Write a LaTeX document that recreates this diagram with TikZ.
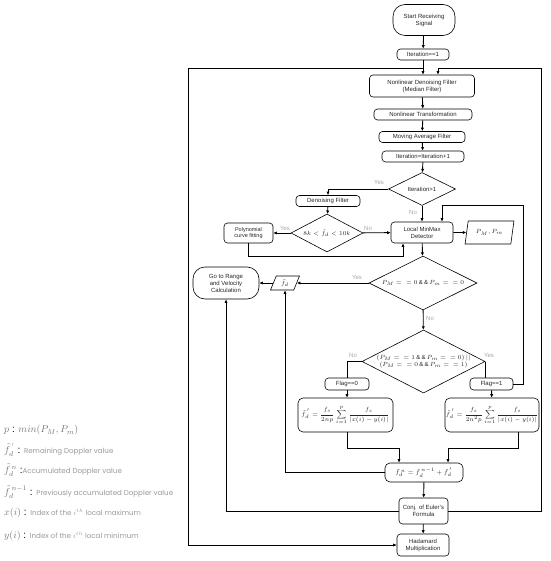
\documentclass[tikz,border=0pt]{standalone}
\usepackage{amsmath}
\usepackage{fontspec}
\setmainfont{Liberation Sans}
\newfontfamily\legendfont{Poppins}
\usetikzlibrary{shapes.geometric,arrows.meta}
\newcommand{\descr}[1]{{\fontsize{7.1}{8}\legendfont\color{black!40}#1}}

\begin{document}
\begin{tikzpicture}[x=1pt,y=-1pt,
  every node/.style={font=\fontsize{6}{7}\selectfont, align=center, inner sep=1pt, text=black!85},
  box/.style={draw, rounded corners=3.5pt, minimum height=11pt, line width=.6pt},
  term/.style={draw, rounded corners=12pt, line width=.6pt},
  dec/.style={draw, diamond, aspect=2, inner sep=0pt, line width=.6pt},
  io/.style={draw, trapezium, trapezium left angle=70, trapezium right angle=110, trapezium stretches=true, inner sep=0pt, line width=.6pt},
  lbl/.style={text=black!35},
  leg/.style={anchor=west, font=\fontsize{10}{11}\selectfont, text=black!55},
  wire/.style={line width=.9pt},
  arr/.style={wire, -{Latex[length=3.5pt,width=3.2pt]}}]
\useasboundingbox (0,0) rectangle (550,561);

% main column
\node[term, minimum width=62pt, minimum height=31pt] (start) at (424,20) {Start Receiving\\Signal};
\node[box, minimum width=52pt] (it1) at (423,54.5) {Iteration==1};
\node[box, minimum width=105pt, minimum height=22pt] (nld) at (422,86) {Nonlinear Denoising Filter\\(Median Filter)};
\node[box, minimum width=98pt] (nlt) at (423,114.5) {Nonlinear Transformation};
\node[box, minimum width=86pt] (maf) at (422,137) {Moving Average Filter};
\node[box, minimum width=82pt] (itinc) at (423,156.5) {Iteration=Iteration+1};
\node[dec, minimum width=67pt, minimum height=33pt] (itdec) at (422,189) {Iteration>1};
\node[box, minimum width=64pt] (dnf) at (328,201) {Denoising Filter};
\node[dec, minimum width=72pt, minimum height=38pt] (rng) at (327,233) {$8k<\hat{f}_d<10k$};
\node[box, minimum width=49pt, minimum height=20pt, font=\fontsize{5.5}{6.5}\selectfont] (poly) at (248.5,233) {Polynomial\\curve fitting};
\node[box, minimum width=62pt, minimum height=21pt] (lmm) at (422,232.5) {Local MinMax\\Detector};
\node[io, minimum width=49pt, minimum height=23pt] (pmm) at (489.5,232.5) {$P_M, P_m$};
\node[dec, minimum width=108pt, minimum height=54pt] (zdec) at (423,283) {$P_M ={}= 0\,\&\,\&\,P_m ={}= 0$};
\node[io, minimum width=29pt, minimum height=14pt] (fd) at (285,283) {$\tilde{f}_d$};
\node[term, minimum width=66pt, minimum height=32pt] (go) at (226,283) {Go to Range\\and Velocity\\Calculation};
\node[dec, minimum width=123pt, minimum height=63pt] (fdec) at (423.5,361.5) {$(P_M ={}= 1\,\&\,\&\,P_m ={}= 0)\,||$\\$(P_M ={}= 0\,\&\,\&\,P_m ={}= 1)$};
\node[box, minimum width=44pt, minimum height=12pt] (f0) at (347,384) {Flag==0};
\node[box, minimum width=43pt, minimum height=12pt] (f1) at (491.5,384) {Flag==1};
\node[box, rounded corners=5pt, minimum width=95pt, minimum height=34pt] (fl) at (345.5,415)
  {$\tilde{f}_d^{\,'}=\dfrac{f_s}{2np}\displaystyle\sum_{i=1}^{p}\dfrac{f_s}{|x(i)-y(i)|}$};
\node[box, rounded corners=5pt, minimum width=84pt, minimum height=34pt] (fr) at (492,415)
  {$\tilde{f}_d^{\,'}=\dfrac{f_s}{2n^2p}\displaystyle\sum_{i=1}^{p}\dfrac{f_s}{|x(i)-y(i)|}$};
\node[box, rounded corners=5pt, minimum width=78pt, minimum height=19pt] (acc) at (424,472.5) {$\tilde{f}_d^{\,n}=\tilde{f}_d^{\,n-1}+\tilde{f}_d^{\,'}$};
\node[box, minimum width=49pt, minimum height=26pt] (conj) at (423.5,511) {Conj. of Euler's\\Formula};
\node[box, minimum width=52pt, minimum height=22pt] (had) at (423,545) {Hadamard\\Multiplication};

\coordinate (split) at (423,68);
\coordinate (tl) at (188,68);
\coordinate (tr) at (541,68);
\coordinate (fb) at (523,205);

\draw[arr] (start) -- (it1);
\draw[arr] (it1.south) -- (it1.south |- nld.north);
\draw[arr] (split) -- (tl) |- (had);
\draw[arr] (conj) -| (tr) -| ([xshift=16pt]nld.north);
\draw[arr] (nld) -- (nlt);
\draw[arr] (nlt) -- (maf);
\draw[arr] (maf) -- (itinc);
\draw[arr] (itinc) -- (itdec);
\draw[arr] (itdec) -| (dnf);
\draw[arr] (itdec) -- (lmm);
\draw[arr] (dnf) -- (rng);
\draw[arr] (rng) -- (poly);
\draw[arr] (rng) -- (lmm);
\draw[arr] (poly.south) -- ++(0,13) -| ([xshift=-19pt]lmm.south);
\draw[arr] (lmm) -- (pmm);
\draw[arr] (lmm) -- (zdec);
\draw[arr] (zdec) -- (fd);
\draw[arr] (fd) -- (go);
\draw[arr] (zdec) -- (fdec);
\draw[wire] (fdec.west) -| (f0.north);
\draw[wire] (fdec.east) -- (fdec.east |- f1.north);
\draw[arr] (f0.south) -- (f0.south |- fl.north);
\draw[arr] (f1) -- (fr);
\draw[arr] (f1.east) -| (fb) -| ([xshift=20pt]lmm.north);
\draw[arr] ([xshift=2pt]fl.south) -- ++(0,16) -| ([xshift=-25pt]acc.north);
\draw[arr] ([xshift=26pt]fr.south) -- ++(0,16) -| ([xshift=24pt]acc.north);
\draw[arr] (acc.west) -| (fd.south);
\draw[arr] (acc) -- (conj);
\draw[arr] (conj.west) -| (go.south);
\draw[arr] (conj) -- (had);

% yes / no
\node[lbl] (y1) at (379,182) {Yes};
\node[lbl] (n1) at (413,212) {No};
\node[lbl] (y2) at (285,228) {Yes};
\node[lbl] (n2) at (368,228) {No};
\node[lbl] (y3) at (357,277) {Yes};
\node[lbl] (n3) at (430,318) {No};
\node[lbl] (n4) at (353,355) {No};
\node[lbl] (y4) at (489,355) {Yes};

% legend
\node[leg] (lg1) at (3,430) {$p$ \textcolor{black}{:} $min(P_M,P_m)$};
\node[leg] (lg2) at (3,450) {$\tilde{f}_d^{\,'}$ \textcolor{black}{:} \descr{Remaining Doppler value}};
\node[leg] (lg3) at (3,470) {$\tilde{f}_d^{\,n}$ \textcolor{black}{:}\descr{Accumulated Doppler value}};
\node[leg] (lg4) at (3,492) {$\tilde{f}_d^{\,n-1}$ \textcolor{black}{:} \descr{Previously accumulated Doppler value}};
\node[leg] (lg5) at (3,513) {$x(i)$ \textcolor{black}{:} \descr{Index of the $i^{th}$ local maximum}};
\node[leg] (lg6) at (3,536) {$y(i)$ \textcolor{black}{:} \descr{Index of the $i^{th}$ local minimum}};
\end{tikzpicture}
\end{document}
